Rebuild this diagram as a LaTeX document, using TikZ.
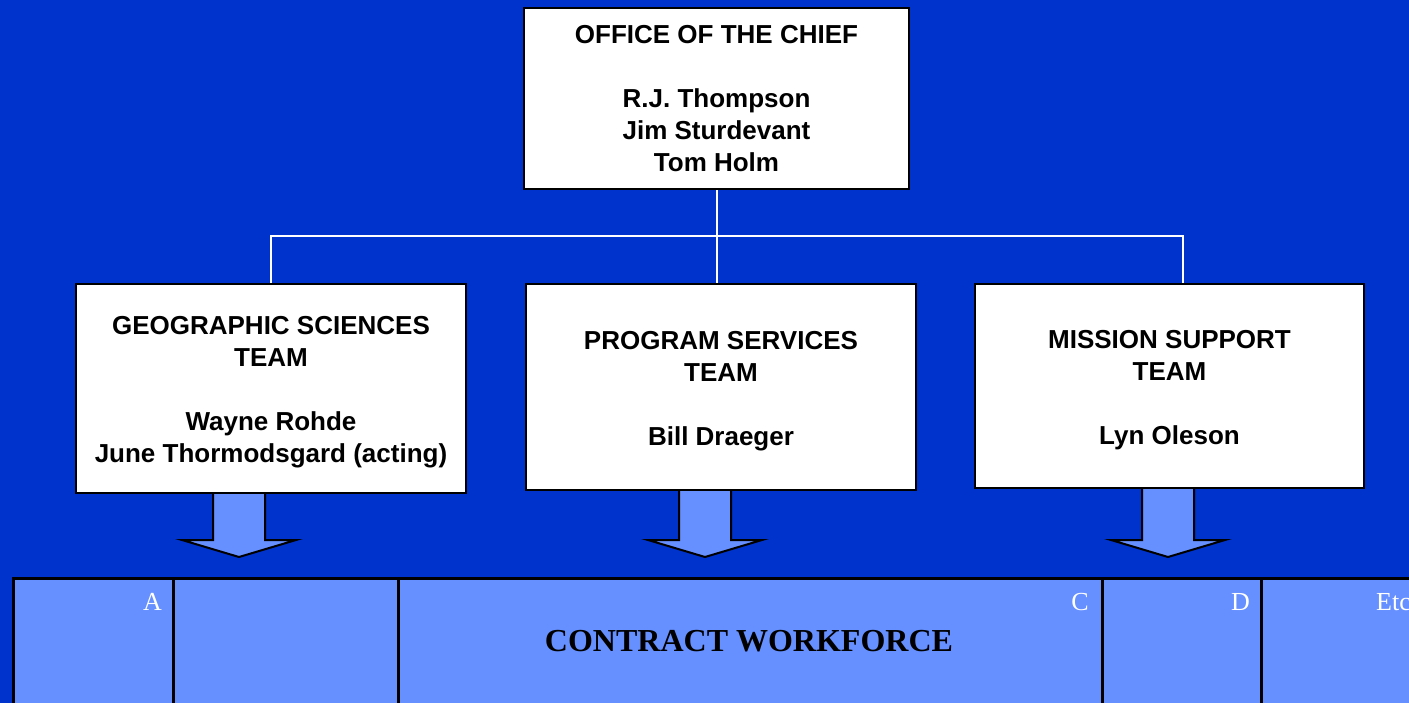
\documentclass[tikz,border=0pt]{standalone}
\usepackage{fontspec}
\setmainfont{Liberation Serif}
\setsansfont{Liberation Sans}
\usepackage{tikz}
\definecolor{slideblue}{RGB}{0,51,204}
\definecolor{cellblue}{RGB}{102,144,255}
\newcommand{\downpad}{\rule{0pt}{26pt}}

\begin{document}
\begin{tikzpicture}
  [x=1pt,y=-1pt,
   team/.style={draw=black,line width=2pt,fill=white,align=center,inner sep=0pt,
     font=\sffamily\bfseries\fontsize{26}{32}\selectfont},
   cell/.style={draw=black,line width=2.5pt,fill=cellblue,anchor=north west,
     minimum height=160pt,inner sep=0pt},
   tag/.style={text=white,anchor=base east,inner sep=0pt,font=\fontsize{26}{30}\selectfont},
   arrowbox/.style={draw=black,line width=2pt,fill=cellblue,line join=miter},
   link/.style={draw=white,line width=2pt}]
  \useasboundingbox (0,0) rectangle (1409,702);
  \fill[slideblue] (-10,-10) rectangle (1419,712);
  \clip (0,0) rectangle (1409,702);

  % big arrows down to the workforce
  \foreach \cx/\ytop in {239/493, 705/490, 1168/488}
    \path[arrowbox] (\cx-26,\ytop) -- (\cx-26,540) -- (\cx-57,540) -- (\cx,557)
      -- (\cx+57,540) -- (\cx+26,540) -- (\cx+26,\ytop);

  \node[team,minimum width=385pt,minimum height=181pt] (chief) at (716.5,98.5)
    {OFFICE OF THE CHIEF\\[32pt]R.J. Thompson\\Jim Sturdevant\\Tom Holm};
  \node[team,minimum width=390pt,minimum height=209pt] (geo) at (271,388.5)
    {\downpad GEOGRAPHIC SCIENCES\\TEAM\\[32pt]Wayne Rohde\\June Thormodsgard (acting)};
  \node[team,minimum width=390pt,minimum height=206pt] (prog) at (721,387)
    {\downpad PROGRAM SERVICES\\TEAM\\[32pt]Bill Draeger};
  \node[team,minimum width=389pt,minimum height=204pt] (mis) at (1169.5,386)
    {\downpad MISSION SUPPORT\\TEAM\\[32pt]Lyn Oleson};

  \coordinate (bus) at (chief.south |- 0,236);
  \draw[link] (chief.south) -- (bus);
  \draw[link] (geo.north) |- (bus) -| ([xshift=13pt]mis.north);
  \draw[link] (bus) -- (bus |- prog.north);

  % contract workforce row
  \foreach \name/\xl/\xr in {ca/12/172, cb/172/397, cc/397/1101, cd/1101/1260, ce/1260/1440}
    \node[cell,minimum width={(\xr-\xl)*1pt}] (\name) at (\xl,577) {};
  \node[tag] (la) at (162,610) {A};
  \node[tag] (lc) at (1089,610) {C};
  \node[tag] (ld) at (1250,610) {D};
  \node[tag,anchor=base west] (le) at (1376,610) {Etc};
  \node[font=\bfseries\fontsize{32}{38}\selectfont] (cw) at (749,641) {CONTRACT WORKFORCE};
\end{tikzpicture}
\end{document}
